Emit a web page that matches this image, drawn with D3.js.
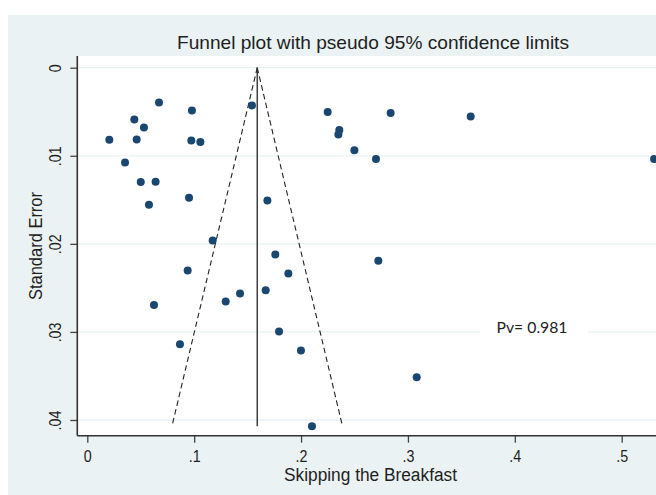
<!DOCTYPE html>
<html>
<head>
<meta charset="utf-8">
<script src="https://cdn.jsdelivr.net/npm/d3@7"></script>
<style>
  body { margin: 0; background: #fff; }
  svg { display: block; }
  .ax text { fill: #1e1e1e; }
</style>
</head>
<body>
<svg id="chart" width="656" height="495"></svg>
<script>
// study effects (x) and their standard errors (y)
const effect = [0.0206, 0.0353, 0.0440, 0.0462, 0.0530, 0.0500, 0.0639, 0.0577, 0.0671,
  0.0979, 0.0973, 0.1058, 0.0952, 0.1173, 0.1541, 0.1685, 0.1759, 0.2249, 0.2358,
  0.2349, 0.2499, 0.2701, 0.2838, 0.3587, 0.5303, 0.2723, 0.0939, 0.1881, 0.0624,
  0.1295, 0.1429, 0.1669, 0.1794, 0.0867, 0.1999, 0.2102, 0.3082]
const stdErr = [0.00818, 0.01076, 0.00587, 0.00815, 0.00678, 0.01299, 0.01295, 0.01557, 0.00394,
  0.00485, 0.00826, 0.00845, 0.01477, 0.01962, 0.00428, 0.01508, 0.02121, 0.00504, 0.00708,
  0.00758, 0.00936, 0.01038, 0.00515, 0.00553, 0.01038, 0.02193, 0.02303, 0.02337, 0.02693,
  0.02655, 0.02564, 0.02527, 0.02996, 0.03140, 0.03212, 0.04072, 0.03515]

const pooled = 0.159
const xTicks = [0, 0.1, 0.2, 0.3, 0.4, 0.5]
const yTicks = [0, 0.01, 0.02, 0.03, 0.04]
const pvLabel = "Pv= 0.981"

const svg = d3.select("#chart")
const W = 656, H = 495

// squeeze a text to a narrower width (stata uses a narrow face)
function narrow(sel, k) {
  sel.each(function () {
    const w = this.getComputedTextLength()
    d3.select(this).attr("textLength", w * k).attr("lengthAdjust", "spacingAndGlyphs")
  })
}

// outer stata-ish panel
svg.append("rect").attr("x", 8).attr("y", 15).attr("width", W - 8).attr("height", H - 15)
  .attr("fill", "#eaf2f3")

const x = d3.scaleLinear().domain([0, 0.5]).range([87.3, 621.7])
const y = d3.scaleLinear().domain([0, 0.04]).range([67.7, 420])

const pLeft = 77.3, pTop = 56, pBottom = 435.7, pRight = W + 2

svg.append("rect").attr("x", pLeft).attr("y", pTop)
  .attr("width", pRight - pLeft).attr("height", pBottom - pTop).attr("fill", "#fff")

// horizontal grid
svg.append("g").selectAll("line").data(yTicks).join("line")
  .attr("x1", pLeft).attr("x2", pRight)
  .attr("y1", d => y(d)).attr("y2", d => y(d))
  .attr("stroke", "#eaf2f3").attr("stroke-width", 1.3)

const fontMain = "'Liberation Sans', Arial, sans-serif"

// axes
const yAxis = d3.axisLeft(y).tickValues(yTicks).tickSize(7).tickPadding(4)
  .tickFormat(d => d === 0 ? "0" : d3.format(".2f")(d).replace(/^0/, ""))
const gy = svg.append("g").attr("class", "ax").attr("transform", `translate(${pLeft},0)`).call(yAxis)
gy.select(".domain").remove()
gy.selectAll(".tick line").attr("stroke", "#444").attr("stroke-width", 1.3)
gy.selectAll(".tick text")
  .attr("x", null).attr("dy", null)
  .attr("transform", "translate(-22,0) rotate(-90)")
  .attr("text-anchor", "middle").attr("dominant-baseline", "central")
  .style("font-family", fontMain).style("font-size", "17px")
  .call(narrow, 0.84)

const xAxis = d3.axisBottom(x).tickValues(xTicks).tickSize(7).tickPadding(5)
  .tickFormat(d => d === 0 ? "0" : d3.format(".1f")(d).replace(/^0/, ""))
const gx = svg.append("g").attr("class", "ax").attr("transform", `translate(0,${pBottom})`).call(xAxis)
gx.select(".domain").remove()
gx.selectAll(".tick line").attr("stroke", "#444").attr("stroke-width", 1.3)
gx.selectAll(".tick text")
  .attr("dy", null).attr("y", 21).attr("dominant-baseline", "central")
  .style("font-family", fontMain).style("font-size", "17px")
  .call(narrow, 0.84)

// axis lines
svg.append("line").attr("x1", pLeft).attr("x2", pLeft).attr("y1", pTop).attr("y2", pBottom)
  .attr("stroke", "#333").attr("stroke-width", 1.6)
svg.append("line").attr("x1", pLeft).attr("x2", pRight).attr("y1", pBottom).attr("y2", pBottom)
  .attr("stroke", "#333").attr("stroke-width", 1.6)

// funnel: pseudo 95% limits from se = 0 to max se
const maxSe = d3.max(stdErr)
const seLine = [0, maxSe]
const lo = d3.line().x(s => x(pooled - 1.96 * s)).y(s => y(s))
const hi = d3.line().x(s => x(pooled + 1.96 * s)).y(s => y(s))
svg.append("path").attr("d", lo(seLine)).attr("fill", "none")
  .attr("stroke", "#222").attr("stroke-width", 1.1).attr("stroke-dasharray", "5.5,3.5")
svg.append("path").attr("d", hi(seLine)).attr("fill", "none")
  .attr("stroke", "#222").attr("stroke-width", 1.1).attr("stroke-dasharray", "5.5,3.5")
svg.append("line").attr("x1", x(pooled)).attr("x2", x(pooled))
  .attr("y1", y(0)).attr("y2", y(maxSe)).attr("stroke", "#333").attr("stroke-width", 1.4)

// studies
svg.append("g").selectAll("circle").data(effect).join("circle")
  .attr("cx", d => x(d)).attr("cy", (d, i) => y(stdErr[i]))
  .attr("r", 4).attr("fill", "#1a476f")

// p-value note with white box
const pvX = 532, pvY = 326
svg.append("rect").attr("x", pvX - 52).attr("y", pvY - 12).attr("width", 108).attr("height", 24)
  .attr("fill", "#fff")
svg.append("text").attr("x", pvX).attr("y", pvY).attr("text-anchor", "middle")
  .attr("dominant-baseline", "central")
  .style("font-family", "Lato, 'Open Sans', sans-serif").style("font-size", "16px")
  .attr("fill", "#222").attr("textLength", 71).attr("lengthAdjust", "spacingAndGlyphs")
  .text(pvLabel)

// titles
svg.append("text").attr("x", 373).attr("y", 49.3).attr("text-anchor", "middle")
  .style("font-family", fontMain).style("font-size", "19px").attr("fill", "#1e1e1e")
  .attr("textLength", 392).attr("lengthAdjust", "spacingAndGlyphs")
  .text("Funnel plot with pseudo 95% confidence limits")

svg.append("text").attr("x", 370.5).attr("y", 475).attr("text-anchor", "middle")
  .attr("dominant-baseline", "central")
  .style("font-family", fontMain).style("font-size", "18px").attr("fill", "#1e1e1e")
  .attr("textLength", 173).attr("lengthAdjust", "spacingAndGlyphs")
  .text("Skipping the Breakfast")

svg.append("text").attr("transform", "translate(36,246) rotate(-90)").attr("text-anchor", "middle")
  .attr("dominant-baseline", "central")
  .style("font-family", fontMain).style("font-size", "18px").attr("fill", "#1e1e1e")
  .attr("textLength", 108).attr("lengthAdjust", "spacingAndGlyphs")
  .text("Standard Error")
</script>
</body>
</html>
